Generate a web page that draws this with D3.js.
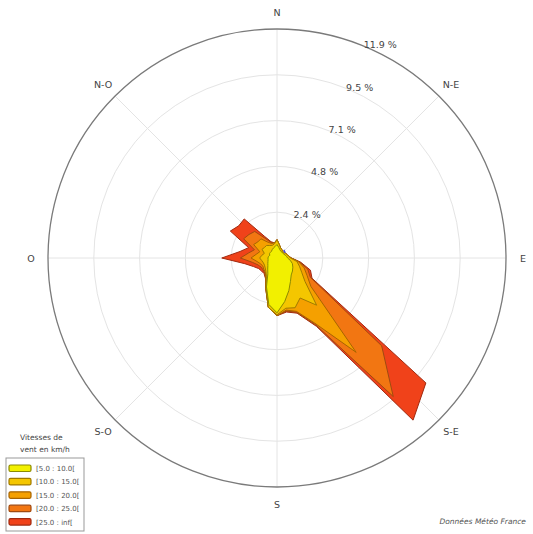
<!DOCTYPE html>
<html>
<head>
<meta charset="utf-8">
<script src="https://cdn.jsdelivr.net/npm/d3@7"></script>
<style>
  html, body { margin: 0; padding: 0; background: #fff; }
  svg { display: block; font-family: "DejaVu Sans", sans-serif; }
</style>
</head>
<body>
<svg id="rose" width="533" height="534"></svg>
<script>
// Wind direction sectors (degrees from north, clockwise), 10° steps
const directions = d3.range(0, 360, 10);

// Frequency (%) of each speed class per direction sector
const speed5to10 = [0.70,0.55,0.45,0.40,0.40,0.40,0.40,0.45,0.50,0.55,0.70,0.85,
                    0.95,1.05,1.15,1.40,1.80,2.30,2.85,2.45,1.60,0.95,0.75,0.62,
                    0.55,0.50,0.47,0.47,0.45,0.40,0.45,0.45,0.45,0.50,0.55,0.60];
const speed10to15 = [0.25,0.15,0.10,0.10,0.05,0.05,0.10,0.10,0.10,0.15,0.35,0.39,
                     0.53,0.85,2.05,1.00,0.95,0.35,0.10,0.15,0.05,0.15,0.15,0.18,
                     0.20,0.25,0.33,0.43,0.35,0.30,0.45,0.40,0.40,0.25,0.15,0.15];
const speed15to20 = [0.00,0.00,0.00,0.00,0.00,0.00,0.00,0.00,0.00,0.05,0.10,0.26,
                     0.32,0.40,3.20,1.50,0.20,0.10,0.05,0.00,0.05,0.05,0.05,0.10,
                     0.10,0.15,0.25,0.45,0.30,0.25,0.50,0.45,0.45,0.20,0.10,0.05];
const speed20to25 = [0.00,0.00,0.00,0.00,0.00,0.00,0.00,0.00,0.00,0.00,0.05,0.20,
                     0.20,4.80,3.00,0.10,0.05,0.05,0.00,0.00,0.00,0.05,0.05,0.05,
                     0.10,0.15,0.25,0.55,0.40,0.30,0.60,0.60,0.50,0.20,0.05,0.00];
const speed25plus = [0.00,0.00,0.00,0.00,0.00,0.00,0.00,0.00,0.00,0.00,0.05,0.15,
                     0.10,3.00,1.60,0.10,0.05,0.05,0.00,0.00,0.00,0.00,0.05,0.10,
                     0.15,0.25,0.40,0.97,0.45,0.32,0.80,0.70,0.85,0.15,0.05,0.00];

const classLabels = ["[5.0 : 10.0[", "[10.0 : 15.0[", "[15.0 : 20.0[", "[20.0 : 25.0[", "[25.0 : inf["];
const classFills  = ["#f2f000", "#f4c600", "#f5a000", "#f27612", "#f0421a"];
const classStrokes = ["#8c8a00", "#a07a00", "#a86400", "#a04a10", "#a02a10"];

// Radial grid
const maxPct = 11.9;
const ringValues = [2.38, 4.76, 7.14, 9.52, 11.9];
const ringLabels = ["2.4 %", "4.8 %", "7.1 %", "9.5 %", "11.9 %"];
const compassAngles = [0, 45, 90, 135, 180, 225, 270, 315];
const compassLabels = ["N", "N-E", "E", "S-E", "S", "S-O", "O", "N-O"];

// Short marker near the centre
const markerAngles = [40, 58];
const markerRadii = [0.55, 0.5];

const svg = d3.select("#rose");
const cx = 277, cy = 258, R = 229;

const r = d3.scaleLinear().domain([0, maxPct]).range([0, R]);
const toRad = d => d * Math.PI / 180;
const px = (deg, rad) => [cx + rad * Math.sin(toRad(deg)), cy - rad * Math.cos(toRad(deg))];

const g = svg.append("g");

// grid rings
g.selectAll("circle.ring").data(ringValues.slice(0, -1)).join("circle")
  .attr("cx", cx).attr("cy", cy).attr("r", d => r(d))
  .attr("fill", "none").attr("stroke", "#e4e4e4").attr("stroke-width", 1);

// spokes
g.selectAll("line.spoke").data(compassAngles).join("line")
  .attr("x1", cx).attr("y1", cy)
  .attr("x2", d => px(d, R)[0]).attr("y2", d => px(d, R)[1])
  .attr("stroke", "#e4e4e4").attr("stroke-width", 1);

// stacked cumulative values
const layers = [speed5to10, speed10to15, speed15to20, speed20to25, speed25plus];
const cumulative = [];
layers.forEach((arr, i) => {
  cumulative.push(arr.map((v, j) => v + (i > 0 ? cumulative[i - 1][j] : 0)));
});

const radial = d3.lineRadial()
  .angle(d => toRad(d.dir))
  .radius(d => r(d.v))
  .curve(d3.curveLinearClosed);

const roseG = g.append("g").attr("transform", `translate(${cx},${cy})`);
for (let i = layers.length - 1; i >= 0; i--) {
  const pts = directions.map((dir, j) => ({ dir, v: cumulative[i][j] }));
  roseG.append("path")
    .attr("d", radial(pts))
    .attr("fill", classFills[i])
    .attr("stroke", classStrokes[i])
    .attr("stroke-width", 1)
    .attr("stroke-linejoin", "round");
}

// marker
const m0 = px(markerAngles[0], r(markerRadii[0]));
const m1 = px(markerAngles[1], r(markerRadii[1]));
g.append("line")
  .attr("x1", m0[0]).attr("y1", m0[1]).attr("x2", m1[0]).attr("y2", m1[1])
  .attr("stroke", "#5050d0").attr("stroke-width", 1.5);

// outer circle
g.append("circle").attr("cx", cx).attr("cy", cy).attr("r", r(maxPct))
  .attr("fill", "none").attr("stroke", "#7a7a7a").attr("stroke-width", 1.3);

// ring labels along 22.5°
g.selectAll("text.ringlab").data(ringValues).join("text")
  .attr("x", d => px(22.5, r(d))[0] - 1)
  .attr("y", d => px(22.5, r(d))[1] + 2)
  .attr("font-size", 9.5).attr("fill", "#444")
  .text((d, i) => ringLabels[i]);

// compass labels
g.selectAll("text.comp").data(compassAngles).join("text")
  .attr("x", d => px(d, 246)[0])
  .attr("y", d => px(d, 246)[1])
  .attr("text-anchor", "middle").attr("dominant-baseline", "central")
  .attr("font-size", 9.5).attr("fill", "#444")
  .text((d, i) => compassLabels[i]);

// legend
const lg = svg.append("g");
lg.append("text").attr("x", 20).attr("y", 440).attr("font-size", 7.5).attr("fill", "#444").text("Vitesses de");
lg.append("text").attr("x", 20).attr("y", 452).attr("font-size", 7.5).attr("fill", "#444").text("vent en km/h");
lg.append("rect").attr("x", 6).attr("y", 458).attr("width", 78).attr("height", 73)
  .attr("fill", "#fff").attr("stroke", "#999").attr("stroke-width", 1);
const rows = lg.selectAll("g.row").data(classLabels).join("g")
  .attr("transform", (d, i) => `translate(9, ${465 + i * 13.4})`);
rows.append("rect").attr("x", 0).attr("y", 0).attr("width", 22).attr("height", 6.5)
  .attr("rx", 1.5)
  .attr("fill", (d, i) => classFills[i]).attr("stroke", (d, i) => classStrokes[i]).attr("stroke-width", 1.2);
rows.append("text").attr("x", 27).attr("y", 6).attr("font-size", 7).attr("fill", "#555").text(d => d);

// source
svg.append("text").attr("x", 526).attr("y", 524).attr("text-anchor", "end")
  .attr("font-size", 7.5).attr("font-style", "italic").attr("fill", "#555")
  .text("Données Météo France");
</script>
</body>
</html>
